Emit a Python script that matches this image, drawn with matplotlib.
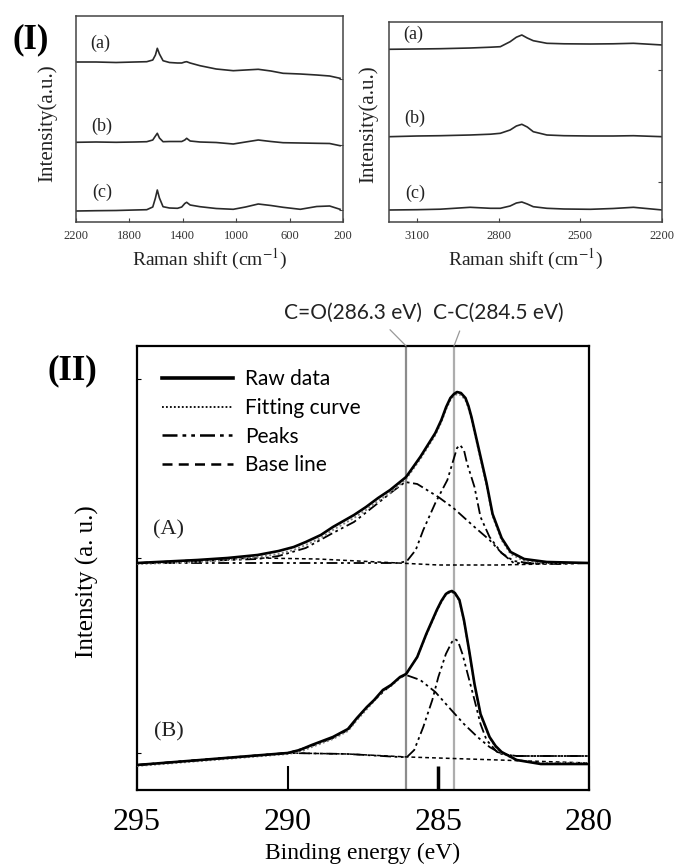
import matplotlib
matplotlib.use("Agg")
import matplotlib.pyplot as plt
from matplotlib.lines import Line2D

plt.rcParams["mathtext.fontset"] = "stix"

W, H = 674, 867
SERIF = "Liberation Serif"
SANS = "Lato"

# ---- panel (I) left: Raman 2200-200 cm-1 (intensity in arbitrary units) ----
ram_lo_x = [2200, 2050, 1900, 1760, 1670, 1625, 1605, 1591, 1575, 1548, 1500, 1440, 1408,
            1385, 1371, 1345, 1271, 1150, 1022, 930, 835, 740, 649, 520, 397, 300, 222]
ram_lo_a = [160, 160, 159.5, 160, 160.3, 162, 167, 173.7, 168, 161.3, 159.5, 159, 159,
            160, 160.3, 159, 156.3, 153, 151.3, 152, 152.7, 151, 148.7, 148, 147, 146, 143.7]
ram_lo_b = [79.7, 80, 79.7, 80, 80.3, 82, 86, 88.7, 84, 80.3, 80.5, 80.5, 80.5,
            82, 83.7, 81, 80, 79.5, 78, 80, 82, 80.5, 79.3, 79, 78.7, 78.5, 76.3]
ram_lo_c = [11, 11.3, 11.5, 12, 12.3, 15, 24, 32, 24, 15.3, 14, 13.7, 15,
            18.5, 19.7, 17, 15.3, 13.5, 12.7, 15, 18, 16.5, 14.7, 12.7, 15.5, 16, 12.7]

# ---- panel (I) right: Raman 3200-2200 cm-1 ----
ram_hi_x = [3203, 3100, 3015, 2905, 2830, 2794, 2758, 2735, 2715, 2695, 2673, 2623,
            2560, 2463, 2380, 2305, 2198]
ram_hi_a = [172.7, 173, 173.3, 174, 174.8, 175.3, 180.3, 184.8, 187, 184, 181.3, 178.7,
            178.2, 178, 178.2, 178.7, 177]
ram_hi_b = [85.3, 86, 86.3, 87, 87.8, 88.7, 92, 96, 97.7, 95, 90.3, 87,
            86.3, 86, 86, 86.3, 85.3]
ram_hi_c = [12, 12.3, 12.8, 14.7, 13.7, 13.7, 16, 19, 20, 18, 15.3, 13.7,
            13, 12.7, 13.5, 14.7, 12]

# ---- panel (II): XPS C1s, (A) and (B) ----
be_a = [295.0, 293.0, 292.0, 291.0, 290.3, 289.8, 289.4, 288.9, 288.5, 287.8, 287.4,
        287.0, 286.6, 286.07, 285.6, 285.1, 284.9, 284.74, 284.6, 284.48, 284.38, 284.25,
        284.1, 284.0, 283.9, 283.65, 283.4, 283.2, 282.9, 282.6, 282.15, 281.4, 280.0]
raw_a = [2.27, 2.30, 2.32, 2.35, 2.39, 2.43, 2.48, 2.55, 2.63, 2.75, 2.83,
         2.92, 3.00, 3.13, 3.33, 3.57, 3.70, 3.83, 3.92, 3.96, 3.98, 3.97,
         3.92, 3.84, 3.73, 3.40, 3.07, 2.76, 2.52, 2.38, 2.31, 2.28, 2.27]
fit_a = [2.26, 2.28, 2.30, 2.33, 2.36, 2.40, 2.45, 2.52, 2.60, 2.72, 2.80,
         2.89, 2.97, 3.11, 3.31, 3.55, 3.68, 3.81, 3.90, 3.94, 3.96, 3.95,
         3.90, 3.82, 3.71, 3.38, 3.05, 2.74, 2.50, 2.36, 2.29, 2.27, 2.27]
base_a_x = [295.0, 293.0, 291.0, 289.0, 287.0, 285.0, 283.0, 281.5, 280.0]
base_a = [2.27, 2.30, 2.32, 2.31, 2.28, 2.25, 2.25, 2.26, 2.27]
co_a_x = [295.0, 292.9, 291.0, 290.3, 289.4, 288.5, 287.8, 287.0, 286.5, 286.1, 285.7,
          285.0, 284.5, 283.8, 283.3, 282.9, 282.5, 282.0, 280.0]
co_a = [2.27, 2.29, 2.31, 2.34, 2.42, 2.57, 2.68, 2.87, 2.99, 3.08, 3.06,
        2.93, 2.82, 2.63, 2.50, 2.37, 2.29, 2.27, 2.27]
cc_a_x = [295.0, 286.3, 286.04, 285.75, 285.5, 285.1, 284.7, 284.5, 284.38, 284.28,
          284.15, 284.05, 283.8, 283.6, 283.3, 282.9, 282.5, 281.0, 280.0]
cc_a = [2.27, 2.27, 2.29, 2.40, 2.60, 2.87, 3.10, 3.30, 3.42, 3.45, 3.40,
        3.27, 3.03, 2.73, 2.53, 2.37, 2.27, 2.26, 2.27]

be_b = [295.0, 292.9, 291.25, 290.0, 289.6, 289.2, 288.5, 288.0, 287.7, 287.37, 287.13,
        286.84, 286.57, 286.27, 286.07, 285.7, 285.4, 285.05, 284.9, 284.75, 284.65, 284.55,
        284.45, 284.3, 284.15, 283.98, 283.8, 283.6, 283.3, 283.1, 282.9, 282.4, 281.6,
        280.0]
raw_b = [0.25, 0.30, 0.34, 0.37, 0.40, 0.45, 0.53, 0.61, 0.72, 0.83, 0.90,
         1.00, 1.05, 1.13, 1.16, 1.33, 1.56, 1.80, 1.89, 1.96, 1.98, 1.99,
         1.97, 1.90, 1.70, 1.40, 1.06, 0.76, 0.53, 0.44, 0.38, 0.30, 0.26,
         0.26]
fit_b = [0.24, 0.29, 0.33, 0.36, 0.38, 0.43, 0.51, 0.59, 0.70, 0.81, 0.89,
         0.99, 1.04, 1.12, 1.16, 1.33, 1.55, 1.79, 1.88, 1.95, 1.97, 1.98,
         1.96, 1.89, 1.69, 1.39, 1.05, 0.75, 0.52, 0.43, 0.37, 0.30, 0.27,
         0.27]
base_b_x = [295.0, 290.0, 288.0, 286.0, 284.0, 282.0, 280.0]
base_b = [0.25, 0.37, 0.36, 0.33, 0.31, 0.29, 0.27]
co_b_x = [295.0, 290.0, 289.2, 288.5, 288.0, 287.4, 286.8, 286.3, 286.07, 285.6, 285.1,
          284.6, 284.15, 283.7, 283.3, 282.9, 282.4, 280.0]
co_b = [0.25, 0.37, 0.44, 0.52, 0.60, 0.82, 0.99, 1.12, 1.15, 1.10, 0.98,
        0.81, 0.66, 0.53, 0.43, 0.36, 0.34, 0.34]
cc_b_x = [295.0, 290.0, 288.0, 286.3, 286.04, 285.8, 285.5, 285.2, 285.0, 284.75, 284.55,
          284.45, 284.35, 284.2, 284.0, 283.8, 283.6, 283.4, 283.05, 282.5, 280.0]
cc_b = [0.25, 0.37, 0.36, 0.33, 0.33, 0.40, 0.63, 0.90, 1.13, 1.36, 1.48,
        1.51, 1.49, 1.36, 1.13, 0.90, 0.66, 0.50, 0.38, 0.34, 0.34]

E_CO, E_CC = 286.07, 284.48   # where the reference lines are drawn

LS_FIT = (0, (1, 1.2))
LS_PEAK = (0, (6, 2, 1.5, 2, 1.5, 2))
LS_BASE = (0, (2.5, 2))


def box(x0, y0, x1, y1):
    # pixel box (top-left origin) -> figure fraction rect
    return [x0 / W, 1 - y1 / H, (x1 - x0) / W, (y1 - y0) / H]


fig = plt.figure(figsize=(W / 100, H / 100), dpi=100)

# ---------------- panel (I) ----------------
ax1 = fig.add_axes(box(76, 16, 343, 222))
ax2 = fig.add_axes(box(389, 22, 662, 222))
for ax, x, ys, lims, xt, labs in (
        (ax1, ram_lo_x, (ram_lo_a, ram_lo_b, ram_lo_c), (2200, 200),
         [2200, 1800, 1400, 1000, 600, 200], ((100, 43), (102, 126), (102, 192))),
        (ax2, ram_hi_x, (ram_hi_a, ram_hi_b, ram_hi_c), (3203, 2200),
         [3100, 2800, 2500, 2200], ((413, 34), (415, 118), (415, 193)))):
    for y in ys:
        ax.plot(x, y, color="#2a2a2a", lw=1.2)
    ax.set_xlim(*lims)
    ax.set_xticks(xt)
    ax.tick_params(axis="x", direction="in", length=3, labelsize=9, pad=6,
                   colors="#444", labelcolor="#333")
    for lab in ax.get_xticklabels():
        lab.set_family(SERIF)
    for s in ax.spines.values():
        s.set_color("#444")
        s.set_linewidth(1.1)
    ax.set_xlabel("Raman shift (cm$^{-1}$)", family=SERIF, fontsize=14, labelpad=3,
                  color="#222")
    for t, (px, py) in zip(("(a)", "(b)", "(c)"), labs):
        fig.text(px / W, 1 - py / H, t, family=SERIF, fontsize=13, ha="center",
                 va="center", color="#222")
ax1.set_ylim(0, 206)
ax2.set_ylim(0, 200)
ax1.yaxis.tick_right()
ax1.set_yticks([12, 77, 143])
ax2.yaxis.tick_right()
ax2.set_yticks([40, 152])
for ax in (ax1, ax2):
    ax.tick_params(axis="y", direction="in", length=3, labelright=False, colors="#444")
fig.text(47 / W, 1 - 123 / H, "Intensity(a.u.)", family=SERIF, fontsize=15,
         rotation=90, ha="center", va="center", color="#222")
fig.text(368 / W, 1 - 124 / H, "Intensity(a.u.)", family=SERIF, fontsize=15,
         rotation=90, ha="center", va="center", color="#222")
fig.text(31 / W, 1 - 40 / H, "(I)", family=SERIF, fontsize=25, fontweight="bold",
         ha="center", va="center")

# ---------------- panel (II) ----------------
ax3 = fig.add_axes(box(137, 346, 589, 790))
ax3.axvline(E_CO, color="0.55", lw=1.6, zorder=1)
ax3.axvline(E_CC, color="0.68", lw=1.6, zorder=1)
for bx, raw, fit, bbx, bb, cox, co, ccx, cc in (
        (be_a, raw_a, fit_a, base_a_x, base_a, co_a_x, co_a, cc_a_x, cc_a),
        (be_b, raw_b, fit_b, base_b_x, base_b, co_b_x, co_b, cc_b_x, cc_b)):
    ax3.plot(bbx, bb, color="k", lw=1.1, ls=LS_BASE, zorder=2)
    ax3.plot(cox, co, color="k", lw=1.3, ls=LS_PEAK, zorder=2)
    ax3.plot(ccx, cc, color="k", lw=1.3, ls=LS_PEAK, zorder=2)
    ax3.plot(bx, fit, color="0.5", lw=1.4, ls=LS_FIT, zorder=3)
    ax3.plot(bx, raw, color="k", lw=1.9, zorder=4)
ax3.set_xlim(295, 280)
ax3.set_ylim(0, 4.44)
ax3.set_xticks([295, 290, 285, 280])
ax3.tick_params(axis="x", direction="in", length=17, width=1.5, pad=13, labelsize=23)
ax3.xaxis.get_major_ticks()[2].tick1line.set_color("0.45")
ax3.xaxis.get_major_ticks()[2].tick1line.set_markeredgewidth(2.5)
for lab in ax3.get_xticklabels():
    lab.set_family(SERIF)
ax3.set_yticks([0.37, 2.32, 4.11])
ax3.tick_params(axis="y", direction="in", length=3, labelleft=False)
for s in ax3.spines.values():
    s.set_linewidth(1.6)
ax3.set_xlabel("Binding energy (eV)", family=SERIF, fontsize=17, labelpad=4)
fig.text(87 / W, 1 - 582 / H, "Intensity (a. u.)", family=SERIF, fontsize=18,
         rotation=90, ha="center", va="center")
ax3.text(293.95, 2.60, "(A)", family=SERIF, fontsize=16, ha="center", va="center",
         color="#222")
ax3.text(293.95, 0.58, "(B)", family=SERIF, fontsize=16, ha="center", va="center",
         color="#222")
fig.text(72 / W, 1 - 371 / H, "(II)", family=SERIF, fontsize=25, fontweight="bold",
         ha="center", va="center")

handles = [Line2D([], [], color="k", lw=2.6),
           Line2D([], [], color="k", lw=1.3, ls=LS_FIT),
           Line2D([], [], color="k", lw=1.8, ls=LS_PEAK),
           Line2D([], [], color="k", lw=1.8, ls=(0, (4, 2.5)))]
ax3.legend(handles, ["Raw data", "Fitting curve", "Peaks", "Base line"],
           loc="upper left", bbox_to_anchor=(0.055, 0.948), frameon=False,
           prop={"family": SANS, "size": 15}, handlelength=3.4, handletextpad=0.6,
           labelspacing=0.42, borderpad=0, borderaxespad=0)

for txt, e, tx, rel in (("C=O(286.3 eV)", E_CO, 353, 0.72),
                        ("C-C(284.5 eV)", E_CC, 498, 0.23)):
    ax3.annotate(txt, xy=(e, 1.0), xycoords=("data", "axes fraction"),
                 xytext=(tx, H - 313), textcoords="figure pixels",
                 ha="center", va="center", family=SANS, fontsize=15, color="#222",
                 arrowprops=dict(arrowstyle="-", color="0.6", lw=0.9,
                                 relpos=(rel, 0), shrinkA=4, shrinkB=0))

fig.savefig("out.png", dpi=100)
